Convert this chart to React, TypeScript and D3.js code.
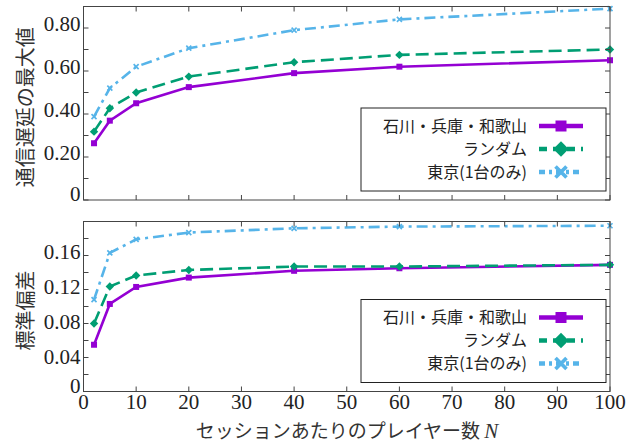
import React from "react";
import * as d3 from "d3";

// session size N
const sessionSizes = [2, 5, 10, 20, 40, 60, 100];

// max delay
const delayKansai = [0.264, 0.369, 0.45, 0.525, 0.59, 0.62, 0.65];
const delayRandom = [0.318, 0.427, 0.5, 0.574, 0.641, 0.675, 0.7];
const delayTokyo = [0.388, 0.52, 0.62, 0.706, 0.79, 0.84, 0.89];

// std dev
const sdKansai = [0.055, 0.103, 0.123, 0.134, 0.142, 0.145, 0.149];
const sdRandom = [0.08, 0.1235, 0.1365, 0.143, 0.147, 0.147, 0.149];
const sdTokyo = [0.108, 0.163, 0.179, 0.187, 0.192, 0.194, 0.195];

const seriesNames = ["石川・兵庫・和歌山", "ランダム", "東京(1台のみ)"];
const seriesColors = ["#9400d3", "#009e73", "#56b4e9"];
const seriesDash = [null, "13,6", "11,5,3,5"];

const xTicks = d3.range(0, 101, 10);
const topTicks = d3.range(0, 0.91, 0.1);
const topLabels = [0, 0.2, 0.4, 0.6, 0.8];
const botTicks = d3.range(0, 0.201, 0.02);
const botLabels = [0, 0.04, 0.08, 0.12, 0.16];

const left = 83.5;
const right = 610;
const serif = "Liberation Serif, Times New Roman, DejaVu Serif, Noto Serif, serif";
const jp = "Noto Sans CJK JP, sans-serif";
const frameColor = "#444";

const x = d3.scaleLinear().domain([0, 100]).range([left, right]);

function Marker({ kind, cx, cy, color, s }: any) {
  if (kind === 0) {
    return <rect x={cx - s / 2} y={cy - s / 2} width={s} height={s} fill={color} />;
  }
  if (kind === 1) {
    const r = s * 0.7;
    return (
      <path
        d={`M${cx},${cy - r}L${cx + r},${cy}L${cx},${cy + r}L${cx - r},${cy}Z`}
        fill={color}
      />
    );
  }
  const r = s / 2;
  return (
    <path
      d={`M${cx - r},${cy - r}L${cx + r},${cy + r}M${cx - r},${cy + r}L${cx + r},${cy - r}`}
      stroke={color}
      strokeWidth={s / 3}
      fill="none"
    />
  );
}

function Panel({ top, bottom, max, ticks, labels, labelShift, series, yLabel, showX }: any) {
  const y = d3.scaleLinear().domain([0, max]).range([bottom, top]);
  const line = d3
    .line<number>()
    .x((_, i) => x(sessionSizes[i]))
    .y((d) => y(d));
  const fmt = (t: number) => (t === 0 ? "0" : d3.format(".2f")(t));
  const boxW = 245;
  const boxH = 83;
  const boxX = right - 4 - boxW;
  const boxY = bottom - 9 - boxH;
  const rows = [18, 41, 64];
  return (
    <g>
      {series.map((vals: number[], k: number) => (
        <g key={k}>
          <path
            d={line(vals) || ""}
            fill="none"
            stroke={seriesColors[k]}
            strokeWidth={2.6}
            strokeDasharray={seriesDash[k] || undefined}
          />
          {vals.map((v, i) => (
            <Marker key={i} kind={k} cx={x(sessionSizes[i])} cy={y(v)} color={seriesColors[k]} s={k === 2 ? 5 : 6} />
          ))}
        </g>
      ))}
      {/* frame */}
      <rect x={left} y={top} width={right - left} height={bottom - top} fill="none" stroke={frameColor} strokeWidth={1} />
      {xTicks.map((t) => (
        <g key={"x" + t}>
          <line x1={x(t)} x2={x(t)} y1={bottom} y2={bottom - 5} stroke={frameColor} />
          <line x1={x(t)} x2={x(t)} y1={top} y2={top + 5} stroke={frameColor} />
        </g>
      ))}
      {ticks.map((t: number, i: number) => (
        <g key={"y" + i}>
          <line x1={left} x2={left + 5} y1={y(t)} y2={y(t)} stroke={frameColor} />
          <line x1={right} x2={right - 5} y1={y(t)} y2={y(t)} stroke={frameColor} />
        </g>
      ))}
      {labels.map((t: number, i: number) => (
        <text
          key={"yl" + i}
          x={left - 3}
          y={y(t) - labelShift(t)}
          dy="0.35em"
          textAnchor="end"
          style={{ fontFamily: serif }}
          fontSize={21}
          fill="#222"
        >
          {fmt(t)}
        </text>
      ))}
      {showX &&
        xTicks.map((t) => (
          <text key={"xl" + t} x={x(t)} y={bottom + 17} textAnchor="middle" style={{ fontFamily: serif }} fontSize={21} fill="#222">
            {t}
          </text>
        ))}
      <text
        transform={`translate(26,${(top + bottom) / 2 + 4}) rotate(-90)`}
        textAnchor="middle"
        dy="0.35em"
        style={{ fontFamily: jp }}
        fontSize={20}
        fill="#333"
      >
        {yLabel}
      </text>
      {/* legend */}
      <rect x={boxX} y={boxY} width={boxW} height={boxH} fill="#fff" stroke="#222" strokeWidth={1} />
      {seriesNames.map((name, k) => (
        <g key={"lg" + k}>
          <text x={boxX + 166} y={boxY + rows[k]} dy="0.35em" textAnchor="end" style={{ fontFamily: jp }} fontSize={16} fill="#222">
            {name}
          </text>
          <line
            x1={boxX + 178}
            x2={boxX + 222}
            y1={boxY + rows[k]}
            y2={boxY + rows[k]}
            stroke={seriesColors[k]}
            strokeWidth={4.5}
            strokeDasharray={k === 0 ? undefined : k === 1 ? "8,6" : "6,4,3,4"}
          />
          <Marker kind={k} cx={boxX + 200} cy={boxY + rows[k]} color={seriesColors[k]} s={11} />
        </g>
      ))}
    </g>
  );
}

export default function App() {
  return (
    <svg
      width={638}
      height={443}
      style={{ position: "absolute", left: 0, top: 0, background: "#fff" }}
    >
      <Panel
        top={6.5}
        bottom={200}
        max={0.9}
        ticks={topTicks}
        labels={topLabels}
        labelShift={(t: number) => (t === 0 ? 6 : 4)}
        series={[delayKansai, delayRandom, delayTokyo]}
        yLabel="通信遅延の最大値"
        showX={false}
      />
      <Panel
        top={221.5}
        bottom={391.5}
        max={0.2}
        ticks={botTicks}
        labels={botLabels}
        labelShift={(t: number) => (t === 0 ? 6 : 25 * t)}
        series={[sdKansai, sdRandom, sdTokyo]}
        yLabel="標準偏差"
        showX={true}
      />
      <text x={347} y={431} dy="0.35em" textAnchor="middle" style={{ fontFamily: jp }} fontSize={19} fill="#333">
        セッションあたりのプレイヤー数{" "}
        <tspan style={{ fontFamily: serif }} fontStyle="italic" fontSize={21}>
          N
        </tspan>
      </text>
    </svg>
  );
}
